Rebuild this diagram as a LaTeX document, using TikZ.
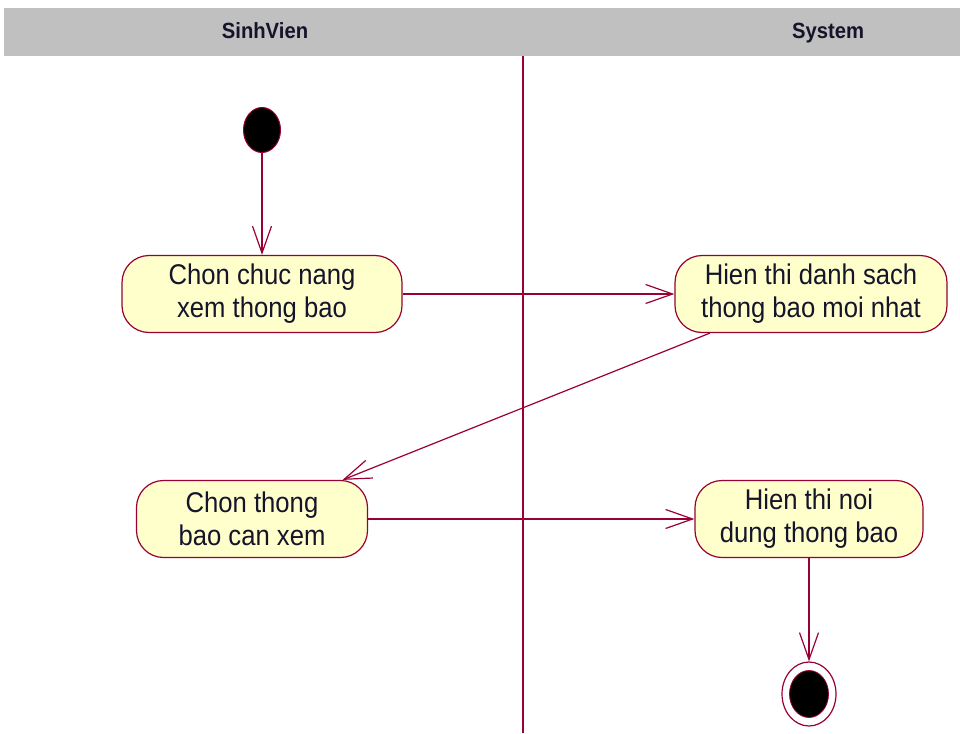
\documentclass[tikz,border=0pt]{standalone}
\usepackage{fontspec}
\setmainfont{Liberation Sans}
\newfontfamily\lblfont[FakeStretch=0.9]{Liberation Sans}
\newfontfamily\lanefont[FakeStretch=0.92]{Liberation Sans}
\usetikzlibrary{arrows.meta,calc,shapes.geometric}
\definecolor{umlline}{HTML}{990033}
\definecolor{umlfill}{HTML}{FFFFCC}
\definecolor{laneband}{HTML}{C0C0C0}
\definecolor{umltext}{HTML}{14142A}
\tikzset{
  activity/.style={draw=umlline, fill=umlfill, line width=1.2pt,
    rounded corners=27pt, minimum height=77pt, inner sep=0pt,
    align=center, text=umltext,
    font=\lblfont\fontsize{28.5}{33}\selectfont},
  flow/.style={draw=umlline, line width=1.2pt,
    -{Straight Barb[length=27pt,width=19pt,line width=1.2pt]}},
  lanetitle/.style={font=\lanefont\bfseries\fontsize{22}{26}\selectfont,
    text=umltext, anchor=base, inner sep=0pt},
  startdot/.style={ellipse, draw=umlline, fill=black, line width=1pt,
    minimum width=37pt, minimum height=45pt, inner sep=0pt},
}
\begin{document}
\begin{tikzpicture}[x=1pt,y=-1pt]
  \useasboundingbox (0,0) rectangle (960,733);
  % swimlane header and divider
  \fill[laneband] (4,8) rectangle (960,56);
  \node[lanetitle] (laneSV) at (265,39) {SinhVien};
  \node[lanetitle] (laneSys) at (828,39) {System};
  \coordinate (divTop) at (523,56);
  \coordinate (divBot) at (523,733);
  \draw[umlline, line width=1.2pt] (divTop) -- (divBot);

  % initial state
  \node[startdot] (init) at (262,130) {};

  % activities
  \node[activity, minimum width=280pt] (a1) at (262,294) {Chon chuc nang\\xem thong bao};
  \node[activity, minimum width=272pt] (a2) at (811,294) {Hien thi danh sach\\thong bao moi nhat};
  \node[activity, minimum width=231pt] (a3) at (252,519) {Chon thong\\bao can xem};
  \node[activity, minimum width=228pt] (a4) at (809,519) {Hien thi noi\\dung thong bao};

  % final state
  \node[ellipse, draw=umlline, fill=white, line width=1.2pt,
        minimum width=54pt, minimum height=64pt, inner sep=0pt] (fin) at (809,694) {};
  \node[ellipse, draw=umlline, fill=black, line width=0.8pt,
        minimum width=39pt, minimum height=47pt, inner sep=0pt] (finDot) at (809,694) {};

  % transitions
  \draw[flow] (init) -- (a1);
  \draw[flow] (a1) -- (a2);
  \draw[flow] ($(a2.south west)!0.13!(a2.south east)$) -- ($(a3.north west)!0.89!(a3.north east)$);
  \draw[flow] (a3) -- (a4);
  \draw[flow] (a4.south) -- (fin.north);
\end{tikzpicture}
\end{document}
